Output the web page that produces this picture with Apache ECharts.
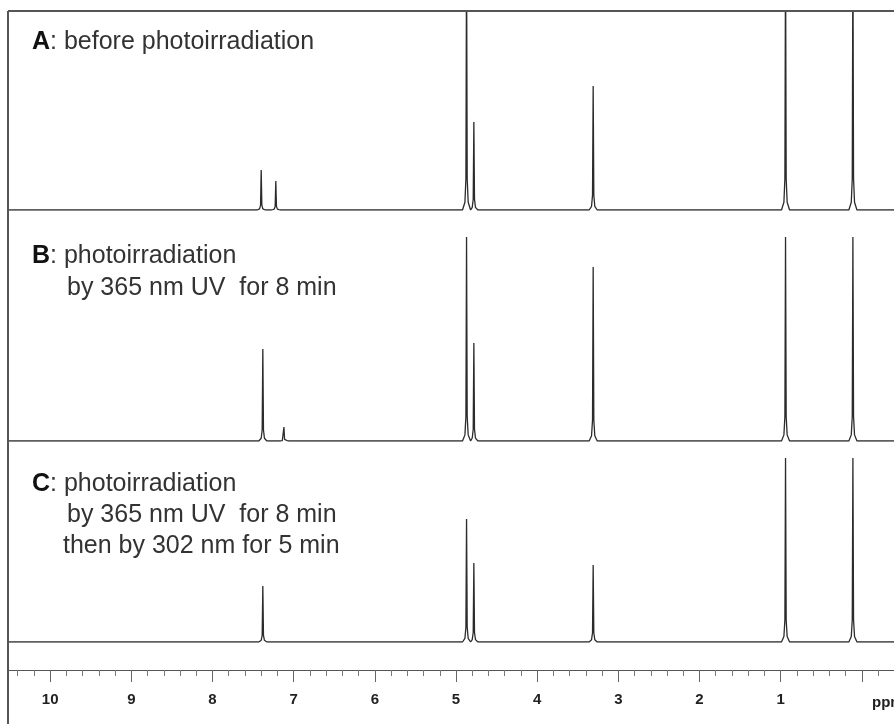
<!DOCTYPE html>
<html>
<head>
<meta charset="utf-8">
<script src="https://cdn.jsdelivr.net/npm/echarts@6/dist/echarts.min.js"></script>
<style>
html, body { margin: 0; padding: 0; background: #fff; }
#main { width: 894px; height: 724px; }
</style>
</head>
<body>
<div id="main"></div>
<script>
// 峰位置 (ppm) 与峰高 (任意单位)
var peaksA = [7.40, 7.22, 4.87, 4.78, 3.31, 0.94, 0.11];
var heightsA = [40, 29, 260, 88, 124, 260, 260];
var peaksB = [7.38, 7.12, 4.87, 4.78, 3.31, 0.94, 0.11];
var heightsB = [92, 14, 204, 98, 174, 204, 204];
var peaksC = [7.38, 4.87, 4.78, 3.31, 0.94, 0.11];
var heightsC = [56, 123, 79, 77, 184, 184];
var ppmRange = [10.52, -0.40];
var tickLabels = [10, 9, 8, 7, 6, 5, 4, 3, 2, 1];

// 峰形 (偏移 ppm, 相对高度)
var spikeShape = [[0.05, 0], [0.02, 0.03], [0.008, 0.12], [0, 1], [-0.008, 0.12], [-0.02, 0.03], [-0.05, 0]];

function buildSpectrum(peaks, heights) {
	var pts = [[ppmRange[0], 0]];
	for (var i = 0; i < peaks.length; i++) {
		for (var k = 0; k < spikeShape.length; k++) {
			pts.push([peaks[i] + spikeShape[k][0], heights[i] * spikeShape[k][1]]);
		}
	}
	pts.push([ppmRange[1], 0]);
	return pts;
}

var myChart = echarts.init(document.getElementById('main'));

var lineColor = '#2b2b2b';
var textFont = 'Liberation Sans';
var fs = 25;

function hiddenX(idx) {
	return {
		type: 'value', gridIndex: idx, min: -1, max: 11, inverse: true, show: false,
		splitLine: { show: false }
	};
}
function hiddenY(idx, h) {
	return { type: 'value', gridIndex: idx, min: 0, max: h, show: false, splitLine: { show: false } };
}
function mkGrid(top, h) {
	return { left: -31, right: -49, top: top, height: h, containLabel: false, outerBoundsMode: 'none' };
}

var option = {
	backgroundColor: '#fff',
	animation: false,
	grid: [mkGrid(11, 199), mkGrid(211, 230), mkGrid(441, 201)],
	xAxis: [
		hiddenX(0),
		hiddenX(1),
		{
			type: 'value', gridIndex: 2, min: -1, max: 11, interval: 1, inverse: true,
			position: 'bottom', offset: 28,
			axisLine: { show: true, onZero: false, lineStyle: { color: '#555', width: 1.2 } },
			axisTick: { show: true, length: 12, lineStyle: { color: '#666' } },
			minorTick: { show: true, splitNumber: 5, length: 6, lineStyle: { color: '#777' } },
			splitLine: { show: false },
			minorSplitLine: { show: false },
			axisLabel: {
				margin: 22,
				color: '#222',
				fontWeight: 'bold',
				fontSize: 15,
				fontFamily: 'Liberation Sans Narrow, Liberation Sans, sans-serif',
				formatter: function (v) {
					return tickLabels.indexOf(v) >= 0 ? String(v) : '';
				}
			}
		}
	],
	yAxis: [hiddenY(0, 199), hiddenY(1, 230), hiddenY(2, 201)],
	series: [
		{ name: 'A', type: 'line', xAxisIndex: 0, yAxisIndex: 0, data: buildSpectrum(peaksA, heightsA) },
		{ name: 'B', type: 'line', xAxisIndex: 1, yAxisIndex: 1, data: buildSpectrum(peaksB, heightsB) },
		{ name: 'C', type: 'line', xAxisIndex: 2, yAxisIndex: 2, data: buildSpectrum(peaksC, heightsC) }
	].map(function (s) {
		s.showSymbol = false;
		s.symbol = 'none';
		s.clip = true;
		s.lineStyle = { color: lineColor, width: 1.3 };
		return s;
	}),
	graphic: [
		{ type: 'rect', shape: { x: 0, y: 0, width: 8, height: 724 }, style: { fill: '#fff' }, z: 100 },
		{ type: 'line', shape: { x1: 8, y1: 11, x2: 894, y2: 11 }, style: { stroke: '#555', lineWidth: 2 }, z: 101 },
		{ type: 'line', shape: { x1: 8, y1: 11, x2: 8, y2: 724 }, style: { stroke: '#555', lineWidth: 2 }, z: 101 },
		{ type: 'text', x: 872, y: 703, z: 101, style: { text: 'ppm', fill: '#222', font: 'bold 15px Liberation Sans Narrow, Liberation Sans', verticalAlign: 'middle' } },
		{ type: 'text', x: 32, y: 42, z: 101, style: {
			text: '{b|A}: before photoirradiation', fill: '#333', font: fs + 'px ' + textFont, verticalAlign: 'middle',
			rich: { b: { fontWeight: 'bold', fill: '#111', fontSize: fs, fontFamily: textFont } } } },
		{ type: 'text', x: 32, y: 256, z: 101, style: {
			text: '{b|B}: photoirradiation', fill: '#333', font: fs + 'px ' + textFont, verticalAlign: 'middle',
			rich: { b: { fontWeight: 'bold', fill: '#111', fontSize: fs, fontFamily: textFont } } } },
		{ type: 'text', x: 67, y: 288, z: 101, style: { text: 'by 365 nm UV  for 8 min', fill: '#333', font: fs + 'px ' + textFont, verticalAlign: 'middle' } },
		{ type: 'text', x: 32, y: 484, z: 101, style: {
			text: '{b|C}: photoirradiation', fill: '#333', font: fs + 'px ' + textFont, verticalAlign: 'middle',
			rich: { b: { fontWeight: 'bold', fill: '#111', fontSize: fs, fontFamily: textFont } } } },
		{ type: 'text', x: 67, y: 515, z: 101, style: { text: 'by 365 nm UV  for 8 min', fill: '#333', font: fs + 'px ' + textFont, verticalAlign: 'middle' } },
		{ type: 'text', x: 63, y: 546, z: 101, style: { text: 'then by 302 nm for 5 min', fill: '#333', font: fs + 'px ' + textFont, verticalAlign: 'middle' } }
	]
};

myChart.setOption(option);
</script>
</body>
</html>
